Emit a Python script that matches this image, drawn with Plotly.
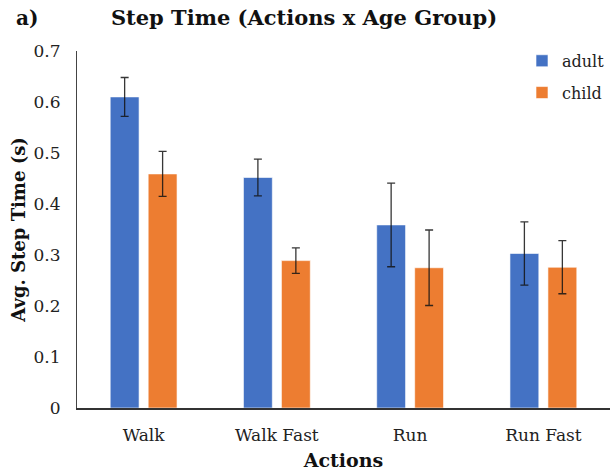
import plotly.graph_objects as go

# Mean step time per action and age group, with error bar half-widths
actions = ["Walk", "Walk Fast", "Run", "Run Fast"]
adult_mean = [0.610, 0.452, 0.359, 0.303]
adult_err = [0.038, 0.036, 0.082, 0.062]
child_mean = [0.459, 0.289, 0.275, 0.276]
child_err = [0.044, 0.025, 0.074, 0.052]
y_ticks = [0, 0.1, 0.2, 0.3, 0.4, 0.5, 0.6, 0.7]
y_tick_text = ["0", "0.1", "0.2", "0.3", "0.4", "0.5", "0.6", "0.7"]

FONT = "DejaVu Serif"
BLUE = "#4472C4"
ORANGE = "#ED7D31"


def err_style(vals):
    return dict(type="data", array=vals, visible=True,
                color="rgba(20,20,20,0.85)", thickness=1.3, width=4)


fig = go.Figure()
fig.add_trace(go.Bar(
    name="adult", x=actions, y=adult_mean, error_y=err_style(adult_err),
    marker=dict(color=BLUE, line=dict(color="rgba(255,255,255,0.6)", width=1)),
    legendgroup="a",
))
fig.add_trace(go.Bar(
    name="child", x=actions, y=child_mean, error_y=err_style(child_err),
    marker=dict(color=ORANGE, line=dict(color="rgba(255,255,255,0.6)", width=1)),
    legendgroup="c",
))

fig.update_layout(
    width=612, height=476,
    margin=dict(l=77, r=2, t=51, b=68),
    paper_bgcolor="white", plot_bgcolor="white",
    barmode="group", bargap=0.43, bargroupgap=0.24,
    font=dict(family=FONT, size=16, color="#222"),
    title=dict(text="<b>Step Time (Actions x Age Group)</b>",
               x=304 / 612, xanchor="center", y=1 - 18 / 476, yanchor="middle",
               font=dict(family=FONT, size=21, color="#111")),
    showlegend=True,
    legend=dict(x=1.0, xanchor="right", y=1.02, yanchor="top",
                traceorder="grouped", tracegroupgap=8,
                font=dict(family=FONT, size=16, color="#222"),
                bgcolor="rgba(0,0,0,0)", itemwidth=30),
    xaxis=dict(
        range=[-0.5, 3.5], showline=True, linecolor="#333", linewidth=2,
        ticks="", showgrid=False, tickfont=dict(size=17),
        ticklabelstandoff=11,
        title=dict(text="<b>Actions</b>", standoff=9,
                   font=dict(family=FONT, size=19, color="#111")),
    ),
    yaxis=dict(
        range=[0, 0.7], tickvals=y_ticks, ticktext=y_tick_text,
        showline=True, linecolor="#444", linewidth=1, ticks="",
        showgrid=False, zeroline=False, ticklabelstandoff=12,
        tickfont=dict(size=17),
        title=dict(text="<b>Avg. Step Time (s)</b>", standoff=3,
                   font=dict(family=FONT, size=18, color="#111")),
    ),
    annotations=[dict(text="<b>a)</b>", xref="paper", yref="paper",
                      x=-77 / 533 + 14 / 533, xanchor="left",
                      y=1 + (51 - 18) / 357, yanchor="middle", showarrow=False,
                      font=dict(family=FONT, size=20, color="#111"))],
)

fig.write_html("out.html")
